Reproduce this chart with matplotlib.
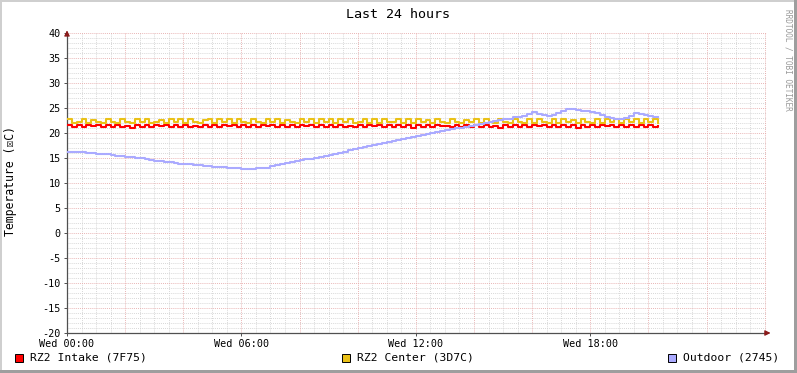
import matplotlib
matplotlib.use('Agg')
import matplotlib.pyplot as plt
import numpy as np
from matplotlib.patches import Rectangle

# 10 minute samples starting Wed 00:00
intake = [
    21.6, 21.3, 21.7, 21.2, 21.6, 21.4,
    21.7, 21.2, 21.6, 21.3, 21.7, 21.2,
    21.5, 21.1, 21.6, 21.3, 21.7, 21.2,
    21.6, 21.4, 21.7, 21.2, 21.6, 21.3,
    21.7, 21.2, 21.5, 21.3, 21.7, 21.2,
    21.6, 21.3, 21.7, 21.4, 21.6, 21.2,
    21.7, 21.3, 21.6, 21.2, 21.7, 21.4,
    21.6, 21.2, 21.7, 21.3, 21.6, 21.2,
    21.7, 21.4, 21.6, 21.2, 21.7, 21.3,
    21.6, 21.2, 21.7, 21.3, 21.5, 21.2,
    21.7, 21.3, 21.6, 21.4, 21.7, 21.2,
    21.6, 21.2, 21.7, 21.3, 21.6, 21.1,
    21.7, 21.3, 21.6, 21.2, 21.7, 21.4,
    21.5, 21.2, 21.6, 21.3, 21.7, 21.2,
    21.6, 21.3, 21.7, 21.2, 21.5, 21.1,
    21.6, 21.2, 21.7, 21.3, 21.6, 21.2,
    21.7, 21.4, 21.6, 21.2, 21.7, 21.3,
    21.6, 21.2, 21.7, 21.1, 21.6, 21.3,
    21.7, 21.2, 21.6, 21.4, 21.7, 21.2,
    21.6, 21.3, 21.7, 21.2, 21.6, 21.3,
    21.7, 21.2, 21.5,
]
center = [
    22.9, 22.1, 22.3, 22.8, 22.1, 22.7,
    22.2, 22.1, 22.8, 22.2, 22.1, 22.9,
    22.2, 22.1, 22.8, 22.2, 22.9, 22.1,
    22.2, 22.7, 22.1, 22.8, 22.2, 22.9,
    22.1, 22.8, 22.2, 22.1, 22.6, 22.9,
    22.1, 22.8, 22.2, 22.9, 22.1, 22.8,
    22.2, 22.1, 22.9, 22.2, 22.1, 22.9,
    22.2, 22.8, 22.1, 22.7, 22.2, 22.1,
    22.8, 22.2, 22.9, 22.1, 22.8, 22.2,
    22.9, 22.1, 22.8, 22.2, 22.9, 22.1,
    22.2, 22.9, 22.1, 22.8, 22.1, 22.9,
    22.2, 22.2, 22.9, 22.1, 22.8, 22.1,
    22.9, 22.2, 22.7, 22.1, 22.9, 22.2,
    22.1, 22.8, 22.2, 22.1, 22.6, 22.2,
    22.9, 22.1, 22.8, 22.2, 22.1, 22.9,
    22.2, 22.1, 22.8, 22.2, 22.1, 22.8,
    22.1, 22.9, 22.2, 22.1, 22.8, 22.1,
    22.9, 22.2, 22.7, 22.1, 22.9, 22.2,
    22.1, 22.8, 22.1, 22.9, 22.2, 22.8,
    22.1, 22.9, 22.2, 22.8, 22.1, 22.9,
    22.2, 22.8, 22.1,
]
outdoor = [
    16.3, 16.3, 16.2, 16.2, 16.1, 16.0,
    15.9, 15.9, 15.8, 15.6, 15.5, 15.4,
    15.2, 15.2, 15.1, 15.0, 14.8, 14.7,
    14.4, 14.4, 14.3, 14.2, 14.0, 13.9,
    13.8, 13.8, 13.7, 13.6, 13.5, 13.4,
    13.3, 13.3, 13.2, 13.1, 13.0, 13.0,
    12.9, 12.9, 12.9, 13.0, 13.0, 13.1,
    13.5, 13.6, 13.8, 14.0, 14.2, 14.4,
    14.6, 14.8, 14.9, 15.1, 15.3, 15.5,
    15.7, 15.9, 16.1, 16.3, 16.6, 16.8,
    17.0, 17.2, 17.4, 17.6, 17.8, 18.0,
    18.2, 18.4, 18.6, 18.9, 19.1, 19.3,
    19.5, 19.7, 19.9, 20.1, 20.3, 20.4,
    20.6, 20.8, 21.0, 21.1, 21.3, 21.5,
    21.6, 21.8, 22.0, 22.2, 22.4, 22.6,
    22.8, 22.9, 23.2, 23.2, 23.5, 23.9,
    24.2, 23.9, 23.6, 23.5, 23.7, 24.0,
    24.5, 24.9, 24.8, 24.6, 24.5, 24.4,
    24.3, 24.0, 23.6, 23.3, 23.1, 22.9,
    22.9, 23.1, 23.5, 24.1, 23.9, 23.7,
    23.4, 23.3, 23.2,
]
hours = np.arange(len(outdoor)) / 6.0

series_names = ['RZ2 Intake (7F75)', 'RZ2 Center (3D7C)', 'Outdoor (2745)']
series_colors = ['#FF0000', '#EAC117', '#AAAAFF']
xtick_pos = [0, 6, 12, 18]
xtick_labels = ['Wed 00:00', 'Wed 06:00', 'Wed 12:00', 'Wed 18:00']

W, H = 797, 373
fig = plt.figure(figsize=(W / 100, H / 100), dpi=100)
fig.patch.set_facecolor('white')
mono = 'DejaVu Sans Mono'

# plot area: x 67..767, y 33..333
ax = fig.add_axes([67 / W, 1 - 333 / H, 700 / W, 300 / H])
ax.set_xlim(0, 700 / 29.07)
ax.set_ylim(-20, 40)

for data, col in zip([intake, center, outdoor], series_colors):
    ax.plot(hours, data, color=col, lw=1.5, drawstyle='steps-post', zorder=3)

# grid
minor_c, major_c = '#D2D2D2', '#E6AAAA'
dots = (0, (1, 1.3))
for v in np.arange(-20, 41, 1):
    if v % 5:
        ax.axhline(v, color=minor_c, lw=0.65, ls=dots, zorder=1)
for v in np.arange(-20, 41, 5):
    ax.axhline(v, color=major_c, lw=0.65, ls=dots, zorder=2)
for t in np.arange(0, 24.1, 0.5):
    if t % 2:
        ax.axvline(t, color=minor_c, lw=0.65, ls=dots, zorder=1)
for t in np.arange(0, 24.1, 2):
    ax.axvline(t, color=major_c, lw=0.65, ls=dots, zorder=2)

for s in ['top', 'right']:
    ax.spines[s].set_visible(False)
for s in ['left', 'bottom']:
    ax.spines[s].set_color('#505050')
    ax.spines[s].set_linewidth(0.9)

ax.set_yticks(np.arange(-20, 41, 5))
ax.set_yticklabels([str(v) for v in range(-20, 41, 5)])
ax.set_xticks(xtick_pos)
ax.set_xticklabels(xtick_labels)
ax.tick_params(axis='both', labelsize=7.3, length=2.5, width=0.7, color='#505050', pad=2)
for lab in ax.get_xticklabels() + ax.get_yticklabels():
    lab.set_fontfamily(mono)

# axis arrows
ax.annotate('', xy=(1.009, 0), xytext=(0.995, 0), xycoords='axes fraction',
            arrowprops=dict(arrowstyle='-|>', color='#8B1A1A', lw=0.8,
                            mutation_scale=8), annotation_clip=False)
ax.annotate('', xy=(0, 1.018), xytext=(0, 0.99), xycoords='axes fraction',
            arrowprops=dict(arrowstyle='-|>', color='#8B1A1A', lw=0.8,
                            mutation_scale=8), annotation_clip=False)

fig.text(398 / W, 1 - 14 / H, 'Last 24 hours', ha='center', va='center',
         fontsize=9.6, family=mono)
fig.text(11 / W, 1 - 181 / H, 'Temperature (\u2612C)', rotation=90,
         ha='center', va='center', fontsize=8.3, family=[mono, 'DejaVu Sans'])
fig.text(788 / W, 1 - 60 / H, 'RRDTOOL / TOBI OETIKER', rotation=270,
         ha='center', va='center', fontsize=5.6, family=mono, color='#999999')

# legend
leg_x = [15, 342, 668]
for x0, name, col in zip(leg_x, series_names, series_colors):
    fig.add_artist(Rectangle((x0 / W, 1 - 362 / H), 8 / W, 8 / H,
                             transform=fig.transFigure, facecolor=col,
                             edgecolor='black', lw=0.7))
    fig.text((x0 + 15) / W, 1 - 358 / H, name, ha='left', va='center',
             fontsize=8.2, family=mono)

# frame shading
fig.add_artist(Rectangle((0, 0), 2 / W, 1, transform=fig.transFigure,
                         facecolor='#CFCFCF', edgecolor='none'))
fig.add_artist(Rectangle((0, 1 - 2 / H), 1, 2 / H, transform=fig.transFigure,
                         facecolor='#CFCFCF', edgecolor='none'))
fig.add_artist(Rectangle((1 - 3 / W, 0), 3 / W, 1, transform=fig.transFigure,
                         facecolor='#9E9E9E', edgecolor='none'))
fig.add_artist(Rectangle((0, 0), 1, 3 / H, transform=fig.transFigure,
                         facecolor='#9E9E9E', edgecolor='none'))

fig.savefig('out.png', dpi=100)
